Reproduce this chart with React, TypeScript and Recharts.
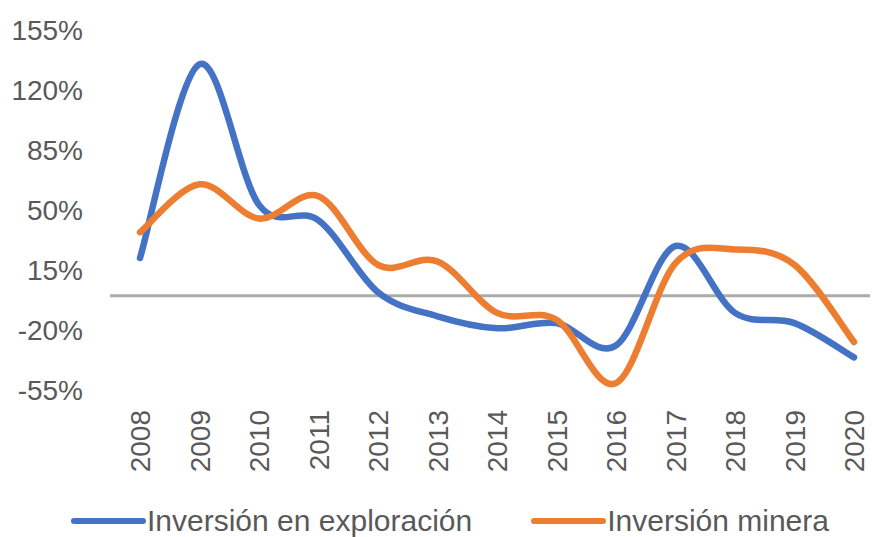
import React from "react";
import {
  LineChart,
  Line,
  XAxis,
  YAxis,
  ReferenceLine,
  Legend,
} from "recharts";

const years = ["2008", "2009", "2010", "2011", "2012", "2013", "2014", "2015", "2016", "2017", "2018", "2019", "2020"];
const exploracion = [22, 135, 53, 44, 2, -12, -19, -16, -29, 29, -10, -16, -36];
const minera = [37, 65, 45, 58, 18, 20, -10, -14, -51, 19, 27, 18, -27];
const yTicks = [-55, -20, 15, 50, 85, 120, 155];

const data = years.map((year, i) => ({ year, exploracion: exploracion[i], minera: minera[i] }));

const FONT = "'Liberation Sans', Arial, sans-serif";
const GREY = "#595959";

// Excel-like smoothed line (Catmull-Rom through the points)
function excelCurve(context: any) {
  let pts: [number, number][] = [];
  return {
    areaStart() {},
    areaEnd() {},
    lineStart() {
      pts = [];
    },
    point(x: number, y: number) {
      pts.push([+x, +y]);
    },
    lineEnd() {
      const n = pts.length;
      if (!n) return;
      context.moveTo(pts[0][0], pts[0][1]);
      for (let i = 0; i < n - 1; i++) {
        const p0 = pts[Math.max(i - 1, 0)];
        const p1 = pts[i];
        const p2 = pts[i + 1];
        const p3 = pts[Math.min(i + 2, n - 1)];
        context.bezierCurveTo(
          p1[0] + (p2[0] - p0[0]) / 6,
          p1[1] + (p2[1] - p0[1]) / 6,
          p2[0] - (p3[0] - p1[0]) / 6,
          p2[1] - (p3[1] - p1[1]) / 6,
          p2[0],
          p2[1]
        );
      }
    },
  };
}

function YearTick({ x, y, payload }: any) {
  return (
    <text
      x={x}
      y={y}
      transform={`rotate(-90, ${x}, ${y})`}
      textAnchor="end"
      dy="0.36em"
      fill={GREY}
      fontSize={28}
      fontFamily={FONT}
    >
      {payload.value}
    </text>
  );
}

function LegendContent({ payload }: any) {
  return (
    <div style={{ display: "flex", paddingLeft: 70, gap: 58, fontFamily: FONT }}>
      {(payload || []).map((p: any) => (
        <div key={p.value} style={{ display: "flex", alignItems: "center" }}>
          <svg width={77} height={12}>
            <line x1={4} y1={6} x2={73} y2={6} stroke={p.color} strokeWidth={6} strokeLinecap="round" />
          </svg>
          <span style={{ fontSize: 30, color: GREY, lineHeight: "34px" }}>{p.value}</span>
        </div>
      ))}
    </div>
  );
}

export default function App() {
  return (
    <div style={{ position: "absolute", left: 0, top: 0, background: "#fff" }}>
      <LineChart width={872} height={537} data={data} margin={{ top: 30, right: 2, left: 0, bottom: 0 }}>
        <XAxis
          dataKey="year"
          axisLine={false}
          tickLine={false}
          tickSize={0}
          tickMargin={20}
          height={147}
          interval={0}
          padding={{ left: 30, right: 16 }}
          tick={<YearTick />}
        />
        <YAxis
          domain={[-55, 155]}
          ticks={yTicks}
          axisLine={false}
          tickLine={false}
          tickSize={0}
          tickMargin={27}
          width={110}
          tickFormatter={(v) => `${v}%`}
          tick={{ fill: GREY, fontSize: 28, fontFamily: FONT }}
        />
        <ReferenceLine y={0} stroke="#ABABAB" strokeWidth={3} />
        <Legend
          layout="vertical"
          verticalAlign="middle"
          align="center"
          content={<LegendContent />}
          wrapperStyle={{ left: 0, top: 504, width: 872, height: 36 }}
        />
        <Line
          name="Inversión en exploración"
          dataKey="exploracion"
          type={excelCurve as any}
          stroke="#4472C4"
          strokeWidth={6.5}
          strokeLinecap="round"
          dot={false}
          activeDot={false}
          isAnimationActive={false}
        />
        <Line
          name="Inversión minera"
          dataKey="minera"
          type={excelCurve as any}
          stroke="#ED7D31"
          strokeWidth={6.5}
          strokeLinecap="round"
          dot={false}
          activeDot={false}
          isAnimationActive={false}
        />
      </LineChart>
    </div>
  );
}
